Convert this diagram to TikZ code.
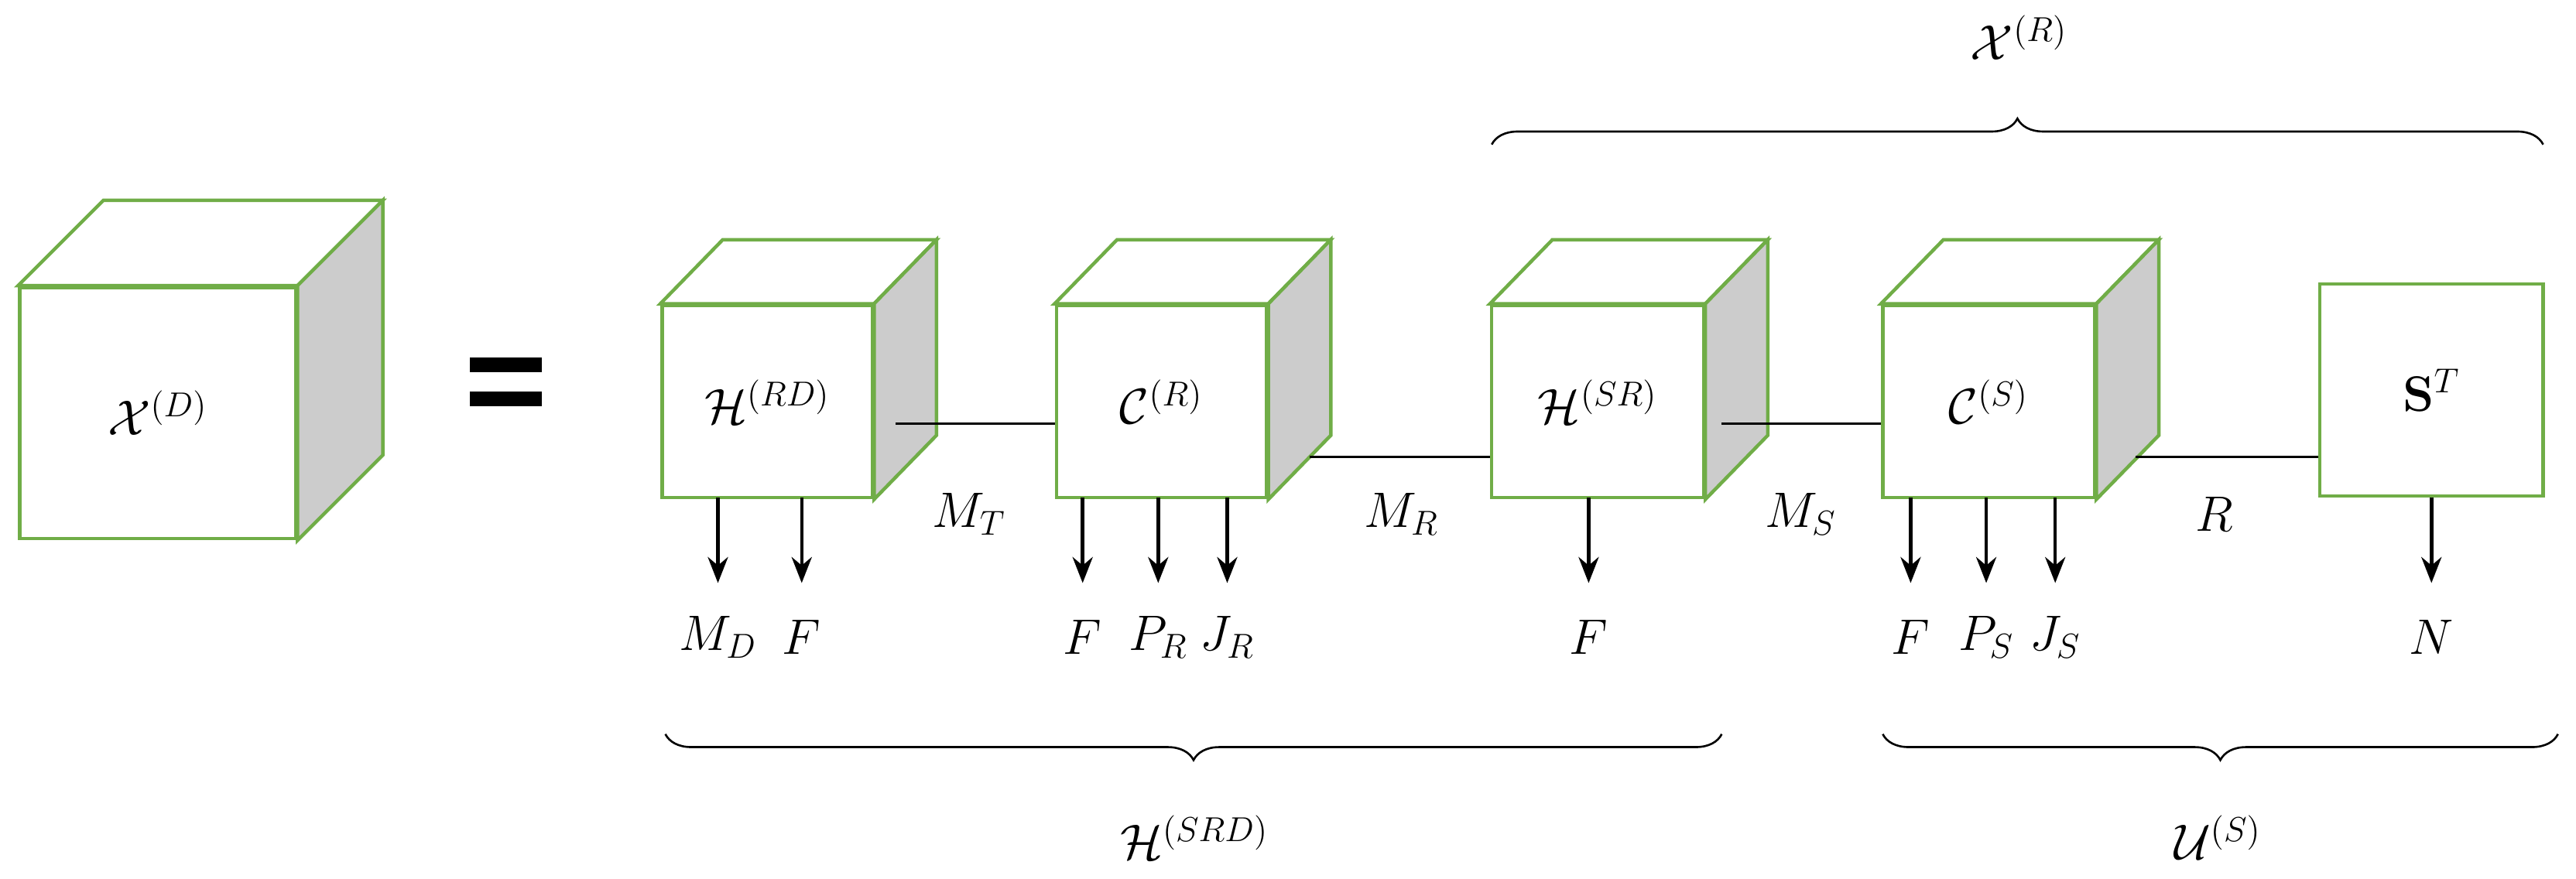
\documentclass[tikz,border=0pt]{standalone}
\usepackage{amsmath,amssymb}
\usetikzlibrary{decorations.pathreplacing,calc,arrows.meta}
\definecolor{grn}{RGB}{112,173,71}
\definecolor{gry}{RGB}{204,204,204}
\newcommand{\mycube}[8]{% name, x1, y1(top), x2, y2(bottom), dx, dy, label
  \node[face,minimum width={(#4-#2)*\u},minimum height={(#5-#3)*\u}] (#1) at ({(#2+#4)/2*\u},{(535-(#3+#5)/2)*\u}) {#8};
  \draw[grn,line width=1.2pt,fill=white,line join=miter] (#1.north west) -- ++({#6*\u},{#7*\u}) -- ($(#1.north east)+({#6*\u},{#7*\u})$) -- (#1.north east) -- cycle;
  \draw[grn,line width=1.2pt,fill=gry,line join=miter] (#1.north east) -- ++({#6*\u},{#7*\u}) -- ($(#1.south east)+({#6*\u},{#7*\u})$) -- (#1.south east) -- cycle;
}
\begin{document}
\begin{tikzpicture}[x=0.02cm,y=0.02cm,
  face/.style={draw=grn,line width=1.2pt,fill=white,inner sep=0pt,font=\fontsize{18}{22}\selectfont},
  lab/.style={font=\fontsize{18}{22}\selectfont,inner sep=0pt},
  arr/.style={-{Stealth[length=9pt,width=7pt]},line width=1.2pt},
  con/.style={line width=0.8pt},
  br/.style={decorate,decoration={brace,amplitude=9pt},line width=0.7pt}]
\def\u{0.02cm}
\useasboundingbox (0,0) rectangle (1568,535);
\mycube{xd}{12}{175}{180}{328}{52}{52}{$\mathcal{X}^{(D)}$}
\coordinate (eq1) at (286,313); \coordinate (eq2) at (330,313);
\coordinate (eq3) at (286,292); \coordinate (eq4) at (330,292);
\draw[line width=5pt] (eq1) -- (eq2) (eq3) -- (eq4);
\mycube{hrd}{403}{186}{531}{303}{38}{39}{$\mathcal{H}^{(RD)}$}
\mycube{cr}{643}{186}{771}{303}{38}{39}{$\mathcal{C}^{(R)}$}
\mycube{hsr}{908}{186}{1037}{303}{38}{39}{$\mathcal{H}^{(SR)}$}
\mycube{cs}{1146}{186}{1275}{303}{38}{39}{$\mathcal{C}^{(S)}$}
\node[face,minimum width={136*\u},minimum height={129*\u}] (st) at (1480,297.5) {$\mathbf{S}^{T}$};
% connectors
\coordinate (a1) at (545,277); \draw[con] (a1) -- (cr.west |- a1);
\coordinate (a2) at (797,257); \draw[con] (a2) -- (hsr.west |- a2);
\coordinate (a3) at (1048,277); \draw[con] (a3) -- (cs.west |- a3);
\coordinate (a4) at (1300,257); \draw[con] (a4) -- (st.west |- a4);
\node[lab] (mt) at (590,222) {$M_T$};
\node[lab] (mr) at (853,222) {$M_R$};
\node[lab] (ms) at (1096,222) {$M_S$};
\node[lab] (r) at (1348,222) {$R$};
% arrows and labels
\foreach \n/\x/\t in {md/437/M_D,f1/488/F,f2/659/F,pr/705/P_R,jr/747/J_R,f3/967/F,f4/1163/F,ps/1209/P_S,js/1251/J_S,nn/1480/N}{
  \coordinate (s\n) at (\x,232);
  \coordinate (e\n) at (\x,180);
  \draw[arr] (s\n) -- (e\n);
  \node[lab] (\n) at (\x,147) {$\t$};
}
% braces
\coordinate (b1) at (405,88); \coordinate (b2) at (1048,88);
\draw[br] (b2) -- (b1);
\node[lab] (hsrd) at (727,25) {$\mathcal{H}^{(SRD)}$};
\coordinate (b3) at (1146,88); \coordinate (b4) at (1557,88);
\draw[br] (b4) -- (b3);
\node[lab] (us) at (1350,25) {$\mathcal{U}^{(S)}$};
\coordinate (b5) at (908,447); \coordinate (b6) at (1548,447);
\draw[br] (b5) -- (b6);
\node[lab] (xr) at (1229,512) {$\mathcal{X}^{(R)}$};
\end{tikzpicture}
\end{document}
